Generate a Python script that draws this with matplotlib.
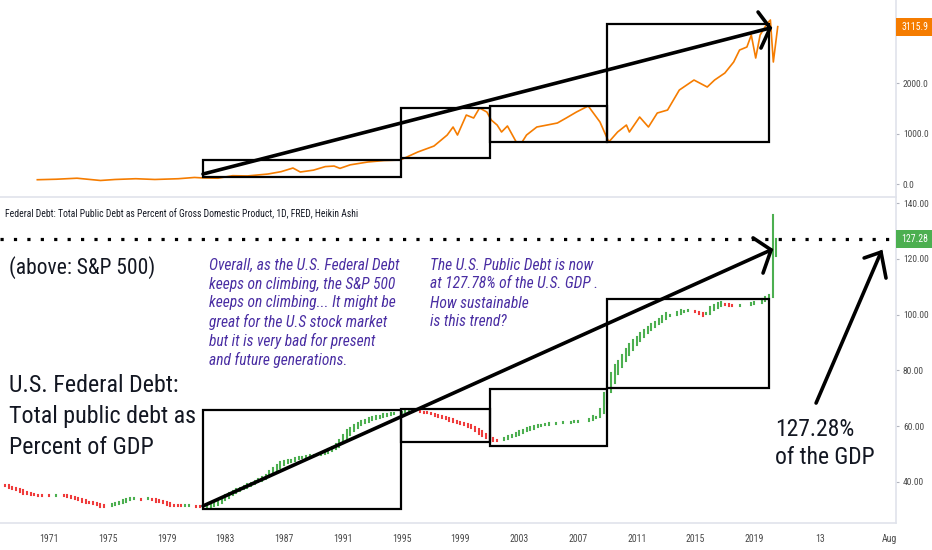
import numpy as np
import matplotlib.pyplot as plt
from matplotlib.patches import Rectangle

plt.rcParams['font.family'] = ['Roboto Condensed', 'DejaVu Sans']

W, H = 932, 550

# ---------------------------------------------------------------------------
# data
# ---------------------------------------------------------------------------
# S&P 500 (top panel), x in chart years
spx_x = [1970.2, 1971.5, 1972.9, 1974.5, 1975.5, 1976.9, 1978.2, 1979.8, 1980.9,
         1981.5, 1982.5, 1983.5, 1984.5, 1985.9, 1986.8, 1987.6, 1988.1, 1989.0,
         1989.8, 1990.4, 1990.8, 1991.5, 1992.7, 1993.8, 1994.9, 1996.1, 1997.2,
         1998.1, 1998.5, 1998.8, 1999.4, 1999.9, 2000.3, 2000.8, 2001.1, 2001.5,
         2001.8, 2002.2, 2002.8, 2003.2, 2003.5, 2004.2, 2004.9, 2005.6, 2006.2,
         2006.9, 2007.7, 2008.5, 2009.1, 2009.7, 2010.3, 2010.5, 2011.2, 2011.8,
         2012.4, 2013.1, 2013.9, 2014.9, 2015.8, 2016.3, 2017.0, 2017.6, 2018.0,
         2018.5, 2018.8, 2019.1, 2019.4, 2019.9, 2020.1, 2020.3, 2020.6]
spx_y = [85, 95, 115, 70, 90, 105, 90, 105, 130,
         120, 115, 165, 160, 198, 245, 317, 238, 275,
         345, 356, 310, 380, 436, 465, 475, 634, 752,
         970, 1129, 970, 1366, 1307, 1505, 1426, 1267, 1168,
         1030, 1149, 832, 832, 970, 1129, 1168, 1208, 1307,
         1426, 1545, 1228, 832, 1030, 1168, 1030, 1327, 1129,
         1406, 1465, 1861, 2059, 1921, 2059, 2198, 2416, 2653,
         2713, 2950, 2495, 2950, 3188, 3248, 2416, 3116]
spx_last = 3115.9

# Federal debt as % of GDP, quarterly from 1967 Q1
debt_start = 1967.0
debt_values = [
    39.5, 39.0, 38.9, 38.8,   # 1967
    38.6, 37.9, 37.5, 37.2,   # 1968
    36.5, 35.8, 35.6, 35.4,   # 1969
    35.2, 35.0, 35.1, 35.3,   # 1970
    35.0, 35.1, 35.3, 35.5,   # 1971
    35.1, 34.6, 34.2, 34.0,   # 1972
    33.4, 32.9, 32.6, 32.4,   # 1973
    32.0, 31.6, 31.2, 31.0,   # 1974
    31.3, 32.0, 32.6, 33.0,   # 1975
    33.4, 33.8, 34.1, 34.2,   # 1976
    34.0, 33.7, 33.9, 34.1,   # 1977
    33.6, 33.0, 32.7, 32.4,   # 1978
    31.9, 31.5, 31.4, 31.5,   # 1979
    31.3, 31.6, 31.6, 31.5,   # 1980
    31.2, 31.0, 30.9, 31.3,   # 1981
    31.8, 32.3, 33.2, 34.5,   # 1982
    35.3, 36.0, 36.8, 37.6,   # 1983
    38.0, 38.6, 39.2, 39.8,   # 1984
    40.5, 41.2, 41.8, 42.6,   # 1985
    43.8, 45.0, 46.2, 47.2,   # 1986
    47.5, 47.8, 48.0, 48.5,   # 1987
    48.8, 49.0, 49.3, 49.6,   # 1988
    49.8, 50.0, 50.5, 51.0,   # 1989
    51.8, 52.5, 53.5, 55.0,   # 1990
    57.0, 58.5, 59.5, 60.4,   # 1991
    61.2, 61.8, 62.3, 62.8,   # 1992
    63.2, 63.5, 63.8, 64.2,   # 1993
    64.5, 64.6, 64.8, 64.9,   # 1994
    65.1, 65.3, 65.4, 65.5,   # 1995
    65.3, 65.0, 64.8, 64.7,   # 1996
    64.2, 63.6, 63.2, 62.9,   # 1997
    62.5, 62.0, 61.5, 61.0,   # 1998
    60.8, 60.3, 59.8, 59.2,   # 1999
    58.2, 57.3, 56.5, 55.8,   # 2000
    55.0, 54.6, 54.8, 55.2,   # 2001
    55.8, 56.5, 57.0, 57.5,   # 2002
    58.2, 58.8, 59.3, 59.6,   # 2003
    60.0, 60.3, 60.6, 60.8,   # 2004
    61.0, 60.9, 61.1, 61.3,   # 2005
    61.5, 61.3, 61.5, 61.8,   # 2006
    62.0, 61.8, 62.0, 62.6,   # 2007
    63.5, 63.4, 66.0, 72.0,   # 2008
    76.0, 79.0, 82.0, 83.5,   # 2009
    85.5, 87.5, 89.5, 90.8,   # 2010
    92.0, 93.5, 94.5, 95.5,   # 2011
    96.5, 97.5, 98.5, 99.5,   # 2012
    100.6, 100.0, 99.8, 101.0,  # 2013
    101.6, 101.3, 101.5, 101.2,  # 2014
    100.9, 100.3, 99.5, 100.6,   # 2015
    102.6, 103.4, 104.0, 104.5,  # 2016
    103.5, 103.2, 103.0, 103.1,  # 2017
    103.4, 103.3, 103.6, 104.2,  # 2018
    104.5, 104.0, 105.6, 106.2,  # 2019
    107.2, 135.7, 127.28,        # 2020
]
debt_last = 127.28

x_ticks = [1971, 1975, 1979, 1983, 1987, 1991, 1995, 1999, 2003, 2007, 2011,
           2015, 2019, 2023.48, 2028.18]
x_labels = ['1971', '1975', '1979', '1983', '1987', '1991', '1995', '1999',
            '2003', '2007', '2011', '2015', '2019', '13', 'Aug']

# drawings (x0, x1, y0, y1)
top_boxes = [(1981.48, 1994.96, 139, 475),
             (1994.96, 2001.02, 515, 1505),
             (2001.02, 2008.98, 832, 1544),
             (2008.98, 2020.01, 832, 3168)]
top_arrow = [(1981.48, 198), (2020.08, 3089)]
top_head = [(2019.26, 3406), (2020.08, 3089), (2019.46, 2693)]

bot_boxes = [(1981.48, 1994.96, 30.3, 65.8),
             (1994.96, 2001.02, 54.3, 66.2),
             (2001.02, 2008.98, 52.9, 73.3),
             (2008.98, 2020.01, 73.7, 105.6)]
bot_arrow = [(1981.48, 31.4), (2020.15, 123.2)]
bot_head = [(2018.92, 127.5), (2020.15, 123.2), (2019.6, 114.9)]
side_arrow = [(2023.21, 68.3), (2027.63, 122.4)]
side_head = [(2026.48, 120.3), (2027.63, 122.4), (2027.97, 113.1)]

orange = '#f57c00'
green = '#4caf50'
red = '#ef3b3b'
purple = '#4a2ea3'
ink = '#131722'
grid_c = '#e0e3eb'
lab_c = '#4a4a4a'

XMIN, XMAX = 1967.66, 2028.65


def fpx(x, y):
    return x / W, 1 - y / H


def style_axis(ax):
    for s in ['top', 'left']:
        ax.spines[s].set_visible(False)
    for s in ['right', 'bottom']:
        ax.spines[s].set_color(grid_c)
        ax.spines[s].set_linewidth(1.2)
    ax.yaxis.tick_right()
    ax.tick_params(axis='y', length=2.5, width=0.8, color='#b2b5be',
                   labelsize=6.8, labelcolor=lab_c, pad=2.5)
    ax.set_xlim(XMIN, XMAX)


def draw_shapes(ax, boxes, lines, lw_box=1.6, lw_line=2.6):
    for x0, x1, y0, y1 in boxes:
        ax.add_patch(Rectangle((x0, y0), x1 - x0, y1 - y0, fill=False,
                               edgecolor='black', linewidth=lw_box, zorder=4))
    for pts in lines:
        xs, ys = zip(*pts)
        ax.plot(xs, ys, color='black', linewidth=lw_line,
                solid_capstyle='round', solid_joinstyle='miter', zorder=5)


def value_tag(ax, val, text, color, px_per_unit):
    h = 18 / px_per_unit
    ax.add_patch(Rectangle((1.0, val - h / 2), 36 / 896, h, transform=ax.get_yaxis_transform(),
                           facecolor=color, edgecolor='none', clip_on=False, zorder=6))
    ax.text(1.0 + 19 / 896, val, text, transform=ax.get_yaxis_transform(), ha='center',
            va='center', color='white', fontsize=7, clip_on=False, zorder=7)


fig = plt.figure(figsize=(W / 100, H / 100), dpi=100)

# ---------------------------------------------------------------------------
# top panel: S&P 500
# ---------------------------------------------------------------------------
ax1 = fig.add_axes([0, 1 - 197 / H, 896 / W, 197 / H])
style_axis(ax1)
ax1.set_ylim(-257, 3644)
ax1.plot(spx_x, spx_y, color=orange, linewidth=1.2, zorder=3)
ax1.set_yticks([0, 1000, 2000])
ax1.set_yticklabels(['0.0', '1000.0', '2000.0'])
ax1.set_xticks([])
draw_shapes(ax1, top_boxes, [top_arrow, top_head])
value_tag(ax1, spx_last, '3115.9', orange, 197 / 3901)

# ---------------------------------------------------------------------------
# bottom panel: federal debt, Heikin Ashi
# ---------------------------------------------------------------------------
ax2 = fig.add_axes([0, 27 / H, 896 / W, 325 / H])
style_axis(ax2)
ax2.set_ylim(25.3, 141.8)

close = np.array(debt_values)
opn = np.empty_like(close)
opn[0] = close[0]
for i in range(1, len(close)):
    opn[i] = (opn[i - 1] + close[i - 1]) / 2
debt_x = debt_start + np.arange(len(close)) / 4
cols = [green if c >= o else red for o, c in zip(opn, close)]
ax2.vlines(debt_x, np.minimum(opn, close), np.maximum(opn, close), colors=cols,
           linewidth=1.5, capstyle='projecting', zorder=3)

ax2.axhline(debt_last, color='black', linewidth=2.3, linestyle=(0, (1, 3.2)),
            dash_capstyle='butt', zorder=4)
ax2.set_yticks([40, 60, 80, 100, 120, 140])
ax2.set_yticklabels(['40.00', '60.00', '80.00', '100.00', '120.00', '140.00'])
ax2.set_xticks(x_ticks)
ax2.set_xticklabels(x_labels)
ax2.tick_params(axis='x', length=0, labelsize=7, labelcolor=lab_c, pad=8)
draw_shapes(ax2, bot_boxes, [bot_arrow, bot_head, side_arrow, side_head])
value_tag(ax2, debt_last, '127.28', green, 325 / 116.5)

# ---------------------------------------------------------------------------
# texts
# ---------------------------------------------------------------------------
fig.text(*fpx(5, 214), 'Federal Debt: Total Public Debt as Percent of Gross Domestic Product, 1D, FRED, Heikin Ashi',
         fontsize=6.9, color=ink, va='center', ha='left')
fig.text(*fpx(9, 268), '(above: S&P 500)', fontsize=15.5, color=ink, va='center', ha='left')

left_lines = ['U.S. Federal Debt:', 'Total public debt as', 'Percent of GDP']
for i, line in enumerate(left_lines):
    fig.text(*fpx(9, 386 + 31 * i), line, fontsize=17.3, color=ink, va='center', ha='left')

note1 = ['Overall, as the U.S. Federal Debt', 'keeps on climbing, the S&P 500',
         'keeps on climbing... It might be', 'great for the U.S stock market',
         'but it is very bad for present', 'and future generations.']
for i, line in enumerate(note1):
    fig.text(*fpx(209, 265 + 19 * i), line, fontsize=11.2, color=purple, style='italic',
             va='center', ha='left')

note2 = ['The U.S. Public Debt is now', 'at 127.78% of the U.S. GDP .',
         'How sustainable', 'is this trend?']
for i, line in enumerate(note2):
    fig.text(*fpx(430, 265 + 19 * i), line, fontsize=11.2, color=purple, style='italic',
             va='center', ha='left')

for i, line in enumerate(['127.28%', 'of the GDP']):
    fig.text(*fpx(775, 429 + 29 * i), line, fontsize=17, color=ink, va='center', ha='left')

fig.savefig('out.png', dpi=100)
